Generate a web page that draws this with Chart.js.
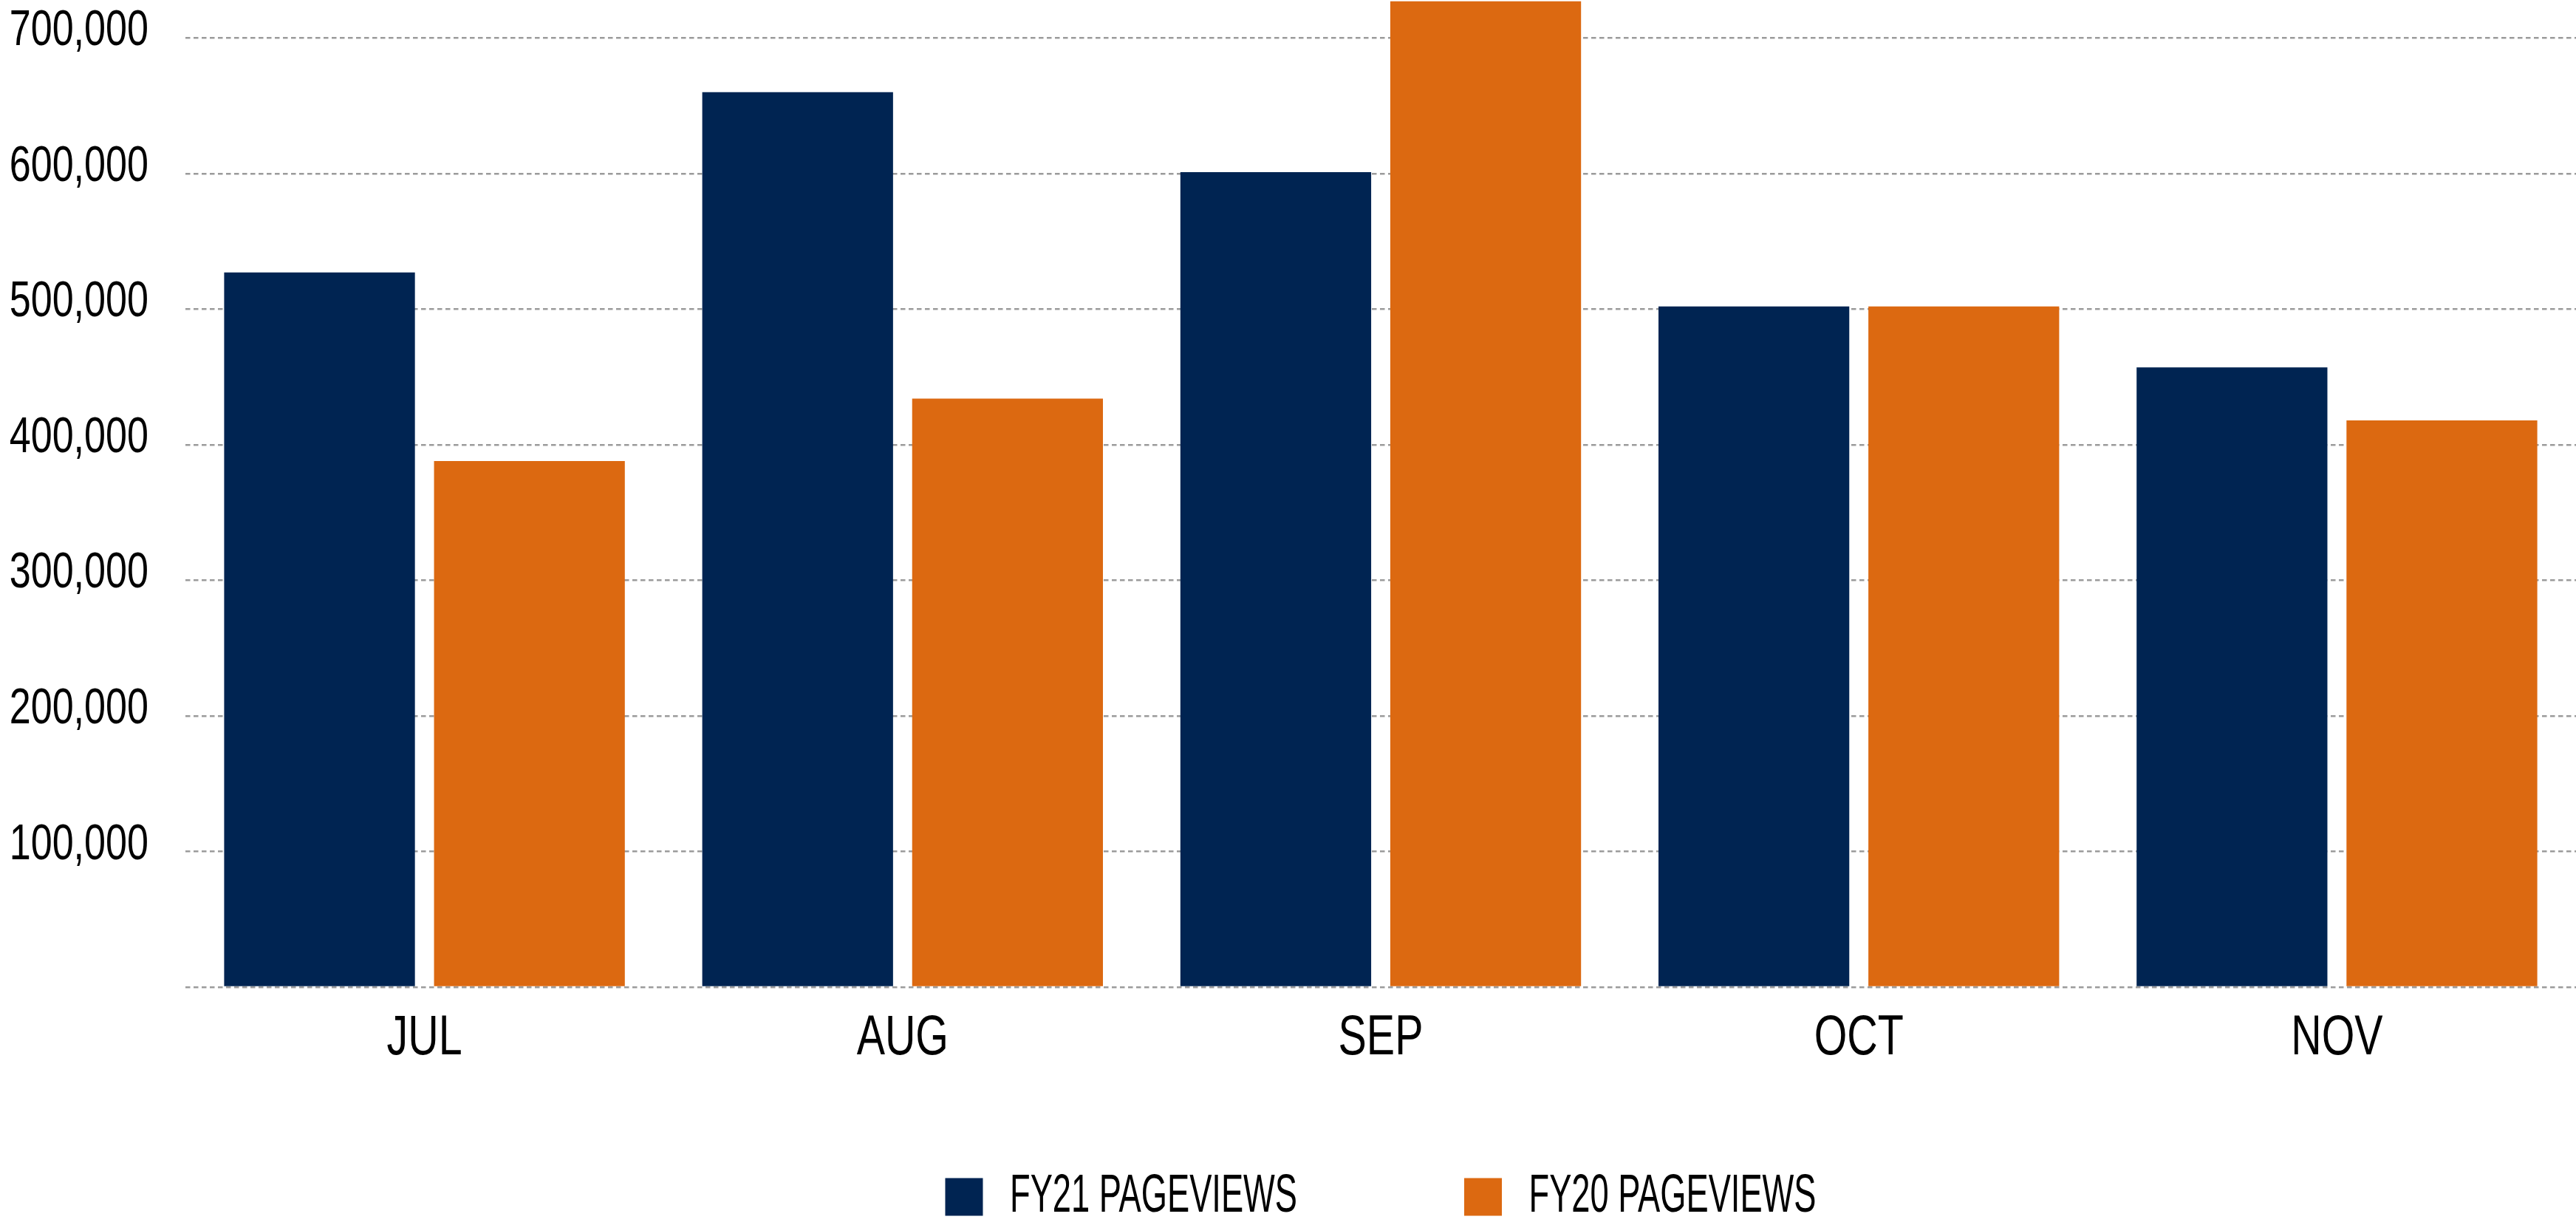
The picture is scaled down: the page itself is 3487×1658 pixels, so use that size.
<!DOCTYPE html>
<html>
<head>
<meta charset="utf-8">
<title>Pageviews FY21 vs FY20</title>
<script src="https://cdn.jsdelivr.net/npm/chart.js@4/dist/chart.umd.min.js"></script>
<style>
  html, body { margin: 0; padding: 0; background: #ffffff; }
  canvas { display: block; }
</style>
</head>
<body>
<canvas id="chart" width="3487" height="1658"></canvas>
<script>
// Monthly pageviews, current fiscal year against the previous one
const months = ['JUL', 'AUG', 'SEP', 'OCT', 'NOV'];
const fy21Pageviews = [527000, 660000, 601000, 502000, 457000];
const fy20Pageviews = [388000, 434000, 727000, 502000, 418000];
const seriesLabels = ['FY21 PAGEVIEWS', 'FY20 PAGEVIEWS'];
const yTickValues = [0, 100000, 200000, 300000, 400000, 500000, 600000, 700000];

const NAVY = '#002452';
const ORANGE = '#DC6911';
const AXIS_FONT = '"Liberation Sans", sans-serif';
const LEGEND_FONT = '"Liberation Sans", Arial, sans-serif';

// Condensed lettering: text is drawn horizontally squeezed, and measured the same way
// so that Chart.js lays labels and legend items out with the narrow widths.
const AXIS_SQUEEZE = 0.755;
const LEGEND_SQUEEZE = 0.62;
function squeezeFor(font) {
  return font.includes('Arial') ? LEGEND_SQUEEZE : AXIS_SQUEEZE;
}

const canvas = document.getElementById('chart');
const ctx = canvas.getContext('2d');
const baseFillText = ctx.fillText;
const baseMeasureText = ctx.measureText;
ctx.fillText = function (text, x, y, maxWidth) {
  const k = squeezeFor(this.font);
  this.save();
  this.translate(x, y);
  this.scale(k, 1);
  if (maxWidth === undefined) {
    baseFillText.call(this, text, 0, 0);
  } else {
    baseFillText.call(this, text, 0, 0, maxWidth / k);
  }
  this.restore();
};
ctx.measureText = function (text) {
  const m = baseMeasureText.call(this, text);
  const k = squeezeFor(this.font);
  return {
    width: m.width * k,
    actualBoundingBoxLeft: m.actualBoundingBoxLeft * k,
    actualBoundingBoxRight: m.actualBoundingBoxRight * k,
    actualBoundingBoxAscent: m.actualBoundingBoxAscent,
    actualBoundingBoxDescent: m.actualBoundingBoxDescent,
    fontBoundingBoxAscent: m.fontBoundingBoxAscent,
    fontBoundingBoxDescent: m.fontBoundingBoxDescent
  };
};

new Chart(canvas, {
  type: 'bar',
  data: {
    labels: months,
    datasets: [
      { label: seriesLabels[0], data: fy21Pageviews, backgroundColor: NAVY, borderWidth: 0 },
      { label: seriesLabels[1], data: fy20Pageviews, backgroundColor: ORANGE, borderWidth: 0 }
    ]
  },
  options: {
    responsive: false,
    devicePixelRatio: 1,
    animation: false,
    datasets: {
      bar: { categoryPercentage: 0.878, barPercentage: 0.909 }
    },
    layout: {
      padding: { left: 0, right: -12, top: 0, bottom: -8.5 }
    },
    plugins: {
      tooltip: { enabled: false },
      legend: {
        position: 'bottom',
        fullSize: false,
        labels: {
          color: '#000000',
          font: { family: LEGEND_FONT, size: 73 },
          boxWidth: 51,
          boxHeight: 51,
          padding: 226
        }
      }
    },
    scales: {
      x: {
        grid: { display: false, drawTicks: false },
        border: { display: false },
        ticks: {
          color: '#000000',
          font: { family: AXIS_FONT, size: 76 },
          padding: 24,
          maxRotation: 0
        },
        afterFit: (scale) => {
          // thin axis band: the month names hang below it, over the legend's empty top margin
          scale.height = 21.5;
          scale.paddingLeft = 0;
          scale.paddingRight = 0;
          scale._computeLabelArea = () => undefined;
        }
      },
      y: {
        min: 0,
        max: 728000,
        grid: {
          color: '#9b9b9b',
          lineWidth: 2.5,
          drawTicks: false
        },
        border: { display: false, dash: [6.5, 4.5] },
        ticks: {
          stepSize: 100000,
          color: '#000000',
          font: { family: AXIS_FONT, size: 69 },
          padding: 50,
          labelOffset: -9,
          callback: (value) => value === 0 ? '' : value.toLocaleString('en-US')
        },
        afterBuildTicks: (scale) => {
          scale.ticks = yTickValues.map((v) => ({ value: v }));
        },
        afterFit: (scale) => {
          scale.width = 251;
          scale.paddingTop = 0;
          scale.paddingBottom = 0;
        }
      }
    }
  }
});
</script>
</body>
</html>
